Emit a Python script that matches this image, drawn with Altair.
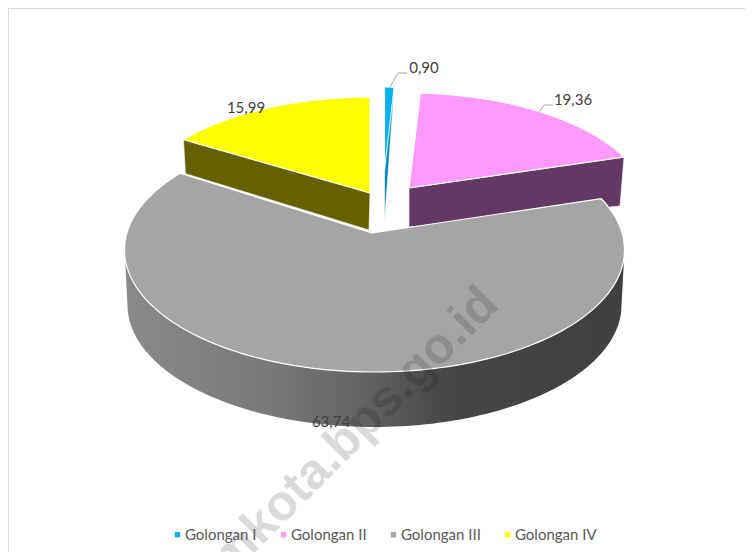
import math
import altair as alt
import pandas as pd

categories = ["Golongan I", "Golongan II", "Golongan III", "Golongan IV"]
values = [0.90, 19.36, 63.74, 15.99]
top_colors = ["#00B0F0", "#FF99FF", "#A5A5A5", "#FFFF00"]
side_colors = ["#0089BE", "#643864", None, "#666100"]

# layout (page pixels): apex, ellipse (cx, cy, rx, ry), extrusion at apex and at slice end, tilt
layout = {
    "Golongan I": ((384.5, 172), (384, 197, 225, 110), (0, 50), (0, 0), 0.49),
    "Golongan II": ((409, 188), (408, 208, 241, 115), (0, 39), (-4, 49), 0.47),
    "Golongan III": ((372, 233), (374.5, 250, 250, 122), (0, 0), (0, 0), 0.49),
    "Golongan IV": ((370, 193), (370, 212, 240, 115), (-1, 37), (2, 34), 0.45),
}
label_pos = [(424, 68), (573, 100), (331, 422), (246, 108)]
W, H = 737, 544
X = alt.X("x:Q", axis=None, scale=alt.Scale(domain=[8, 8 + W], nice=False, zero=False))
Y = alt.Y("y:Q", axis=None, scale=alt.Scale(domain=[8, 8 + H], nice=False, zero=False, reverse=True))


def ray(apex, ell, th, k):
    dx, dy = math.sin(th), -k * math.cos(th)
    ax, ay = apex[0] - ell[0], apex[1] - ell[1]
    a = (dx / ell[2]) ** 2 + (dy / ell[3]) ** 2
    b = 2 * (ax * dx / ell[2] ** 2 + ay * dy / ell[3] ** 2)
    c = (ax / ell[2]) ** 2 + (ay / ell[3]) ** 2 - 1
    s = (-b + math.sqrt(b * b - 4 * a * c)) / (2 * a)
    return apex[0] + s * dx, apex[1] + s * dy


total = sum(values)
spans = {}
acc = 0.0
for cat, v in zip(categories, values):
    spans[cat] = (acc / total * 2 * math.pi, (acc + v) / total * 2 * math.pi)
    acc += v


def top_face(cat):
    apex, ell, _, _, k = layout[cat]
    a0, a1 = spans[cat]
    n = max(3, int((a1 - a0) * 40))
    pts = [apex] + [ray(apex, ell, a0 + (a1 - a0) * i / n, k) for i in range(n + 1)] + [apex]
    return pd.DataFrame([{"x": p[0], "y": p[1], "i": i, "cat": cat} for i, p in enumerate(pts)])


def flat_side(cat, edge_angle):
    apex, ell, off_apex, off_end, k = layout[cat]
    end = ray(apex, ell, edge_angle, k)
    pts = [apex, end, (end[0] + off_end[0], end[1] + off_end[1]),
           (apex[0] + off_apex[0], apex[1] + off_apex[1]), apex]
    return pd.DataFrame([{"x": p[0], "y": p[1], "i": i} for i, p in enumerate(pts)])


def gray_side():
    cx, cy, rx, ry = layout["Golongan III"][1]
    depth, shrink = 55, 3
    n = 120
    pts = []
    for i in range(n + 1):
        t = math.pi * i / n
        pts.append((cx + rx * math.cos(t), cy + ry * math.sin(t)))
    for i in range(n, -1, -1):
        t = math.pi * i / n
        pts.append((cx + (rx - shrink) * math.cos(t), cy + depth + ry * math.sin(t)))
    pts.append(pts[0])
    return pd.DataFrame([{"x": p[0], "y": p[1], "i": i} for i, p in enumerate(pts)])


color_scale = alt.Scale(domain=categories, range=top_colors)
legend = alt.Legend(
    orient="none", legendX=162, legendY=519, columns=4, title=None,
    symbolType="square", symbolSize=28, symbolStrokeWidth=0, labelFont="Lato",
    labelFontSize=15, labelColor="#595959", columnPadding=19, labelOffset=0,
)


def top_layer(cat):
    return alt.Chart(top_face(cat)).mark_line(stroke="white", strokeWidth=1.2, interpolate="linear").encode(
        x=X, y=Y, order="i:Q", fill=alt.Fill("cat:N", scale=color_scale, legend=legend)
    )


def side_layer(df, fill):
    return alt.Chart(df).mark_line(stroke="white", strokeWidth=0.6, fill=fill).encode(x=X, y=Y, order="i:Q")


gradient = alt.Gradient(
    gradient="linear", x1=0, x2=1, y1=0, y2=0,
    stops=[
        alt.GradientStop(offset=0, color="#8A8A8A"),
        alt.GradientStop(offset=0.3, color="#787878"),
        alt.GradientStop(offset=0.5, color="#5F5F5F"),
        alt.GradientStop(offset=0.65, color="#464646"),
        alt.GradientStop(offset=1, color="#404040"),
    ],
)

layers = [
    side_layer(flat_side("Golongan IV", spans["Golongan IV"][0]), side_colors[3]),
    top_layer("Golongan IV"),
    top_layer("Golongan I"),
    side_layer(flat_side("Golongan I", spans["Golongan I"][1]), side_colors[0]),
    side_layer(flat_side("Golongan II", spans["Golongan II"][1]), side_colors[1]),
    top_layer("Golongan II"),
    alt.Chart(gray_side()).mark_line(strokeWidth=0, fill=gradient).encode(x=X, y=Y, order="i:Q"),
    top_layer("Golongan III"),
]

# leader lines run from the slice rim to the label
leaders = pd.DataFrame([
    {"x": 390, "y": 87, "i": 0, "k": "a"}, {"x": 398, "y": 73, "i": 1, "k": "a"}, {"x": 407, "y": 73, "i": 2, "k": "a"},
    {"x": 538, "y": 113, "i": 0, "k": "b"}, {"x": 544, "y": 105, "i": 1, "k": "b"}, {"x": 553, "y": 105, "i": 2, "k": "b"},
])
layers.append(alt.Chart(leaders).mark_line(stroke="#A6A6A6", strokeWidth=1).encode(x=X, y=Y, order="i:Q", detail="k:N"))

labels = pd.DataFrame({
    "x": [p[0] for p in label_pos], "y": [p[1] for p in label_pos],
    "t": [f"{v:.2f}".replace(".", ",") for v in values],
})
layers.append(alt.Chart(labels).mark_text(font="Lato", fontSize=15, color="#404040").encode(x=X, y=Y, text="t:N"))

mark = pd.DataFrame({"x": [490], "y": [296], "t": ["mkota.bps.go.id"]})
layers.append(alt.Chart(mark).mark_text(
    font="Liberation Sans", fontWeight="bold", fontSize=50, angle=315, align="right",
    baseline="middle", color="#000000", opacity=0.14,
).encode(x=X, y=Y, text="t:N"))

layers.append(alt.Chart(pd.DataFrame({"a": [0]})).mark_rule(color="#D9D9D9", strokeWidth=2).encode(
    x=alt.value(0), x2=alt.value(W), y=alt.value(0)))
layers.append(alt.Chart(pd.DataFrame({"a": [0]})).mark_rule(color="#D9D9D9", strokeWidth=2).encode(
    x=alt.value(0), y=alt.value(0), y2=alt.value(H)))

chart = alt.layer(*layers).properties(
    width=W, height=H, padding=0, autosize=alt.AutoSizeParams(type="none")
).configure_view(stroke=None)

chart.save("out.html", embed_options={"renderer": "svg", "actions": False})
